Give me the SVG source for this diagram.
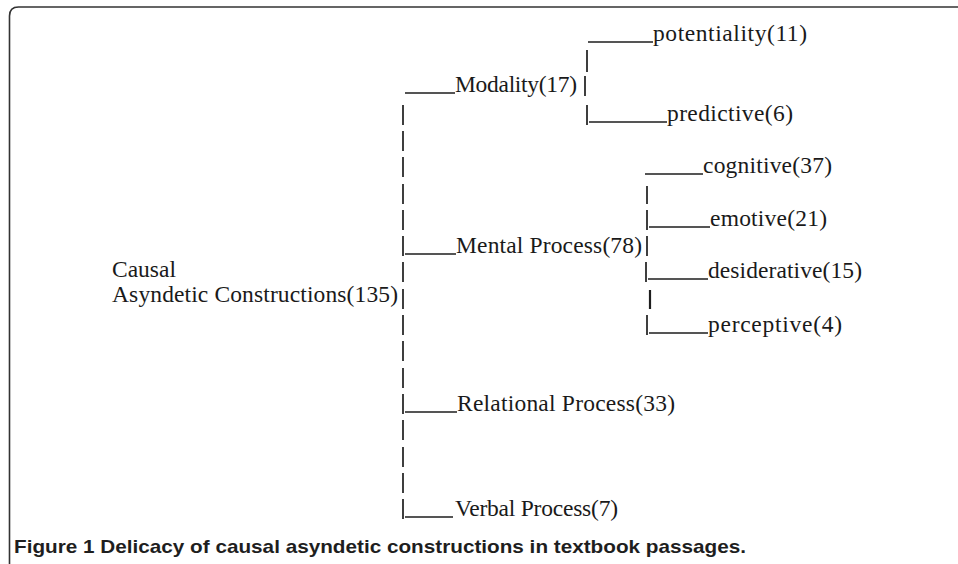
<svg xmlns="http://www.w3.org/2000/svg" width="958" height="564" viewBox="0 0 958 564">
<style>
.t{font-family:"Liberation Serif","Times New Roman",serif;font-size:23.5px;fill:#1a1a1a}
.cap{font-family:"Liberation Sans",Arial,sans-serif;font-size:19px;font-weight:bold;fill:#1e1e1e}
.u{stroke:#1e1e1e;stroke-width:1.3;fill:none}
.p{stroke:#1e1e1e;stroke-width:1.7;fill:none}
.frame{stroke:#333;stroke-width:1.6;fill:none}
</style>
<rect width="958" height="564" fill="#fff"/>
<path class="frame" d="M9.5,575 V16 Q9.5,7 18.5,7 H970"/>
<g id="connectors">
  <path class="p" d="M403,105V125M403,131V151M403,157V177M403,184V204M403,210V230M403,236V256M403,262V282M403,289V309M403,315V335M403,341V361M403,368V388M403,394V414M403,420V440M403,447V467M403,473V493M403,499V519"/>
  <path class="p" d="M587,50V72M585,76V96M587,105V125"/>
  <path class="p" d="M647,186V204M647,210V230M647,236V256M646,262V282"/>
  <path class="p" d="M650,290V309" style="stroke-width:2.2"/>
  <path class="p" d="M647,315V335"/>
  <path class="u" d="M588,42H653M405,93H455M589,122H667M645,174H703M649,227H710M405,254H456M648,279H708M649,333H708M405,412H457M405,517H453"/>
</g>
<g id="root">
  <text class="t" x="112" y="277">Causal</text>
  <text class="t" x="112" y="302" textLength="286">Asyndetic Constructions(135)</text>
</g>
<g id="modality"><text class="t" x="455" y="92" textLength="122">Modality(17)</text></g>
<g id="potentiality"><text class="t" x="653" y="41" textLength="154">potentiality(11)</text></g>
<g id="predictive"><text class="t" x="667" y="121" textLength="126">predictive(6)</text></g>
<g id="mental"><text class="t" x="456" y="253" textLength="186">Mental Process(78)</text></g>
<g id="cognitive"><text class="t" x="703" y="173" textLength="129">cognitive(37)</text></g>
<g id="emotive"><text class="t" x="710" y="226" textLength="117">emotive(21)</text></g>
<g id="desiderative"><text class="t" x="708" y="278" textLength="154">desiderative(15)</text></g>
<g id="perceptive"><text class="t" x="708" y="332" textLength="134">perceptive(4)</text></g>
<g id="relational"><text class="t" x="457" y="411" textLength="218">Relational Process(33)</text></g>
<g id="verbal"><text class="t" x="455" y="516" textLength="163">Verbal Process(7)</text></g>
<g id="caption"><text class="cap" x="14" y="553" textLength="732" lengthAdjust="spacingAndGlyphs">Figure 1 Delicacy of causal asyndetic constructions in textbook passages.</text></g>
</svg>
